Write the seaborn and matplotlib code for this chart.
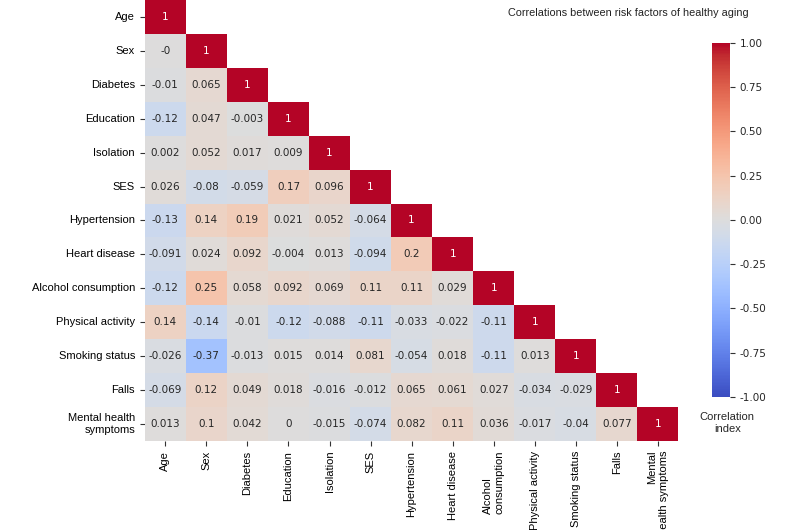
import numpy as np
import pandas as pd
import matplotlib
matplotlib.use("Agg")
import matplotlib.pyplot as plt
import seaborn as sns

# risk factor names (row order = column order)
factors = ['Age', 'Sex', 'Diabetes', 'Education', 'Isolation', 'SES',
           'Hypertension', 'Heart disease', 'Alcohol consumption',
           'Physical activity', 'Smoking status', 'Falls',
           'Mental health symptoms']
row_labels = ['Age', 'Sex', 'Diabetes', 'Education', 'Isolation', 'SES',
              'Hypertension', 'Heart disease', 'Alcohol consumption',
              'Physical activity', 'Smoking status', 'Falls',
              'Mental health\nsymptoms']
col_labels = ['Age', 'Sex', 'Diabetes', 'Education', 'Isolation', 'SES',
              'Hypertension', 'Heart disease', 'Alcohol\nconsumption',
              'Physical activity', 'Smoking status', 'Falls',
              'Mental\nhealth symptoms']

# lower triangle of the correlation matrix, one list per row
r_age = [1]
r_sex = [-0.0, 1]
r_diabetes = [-0.01, 0.065, 1]
r_education = [-0.12, 0.047, -0.003, 1]
r_isolation = [0.002, 0.052, 0.017, 0.009, 1]
r_ses = [0.026, -0.08, -0.059, 0.17, 0.096, 1]
r_hypertension = [-0.13, 0.14, 0.19, 0.021, 0.052, -0.064, 1]
r_heart = [-0.091, 0.024, 0.092, -0.004, 0.013, -0.094, 0.2, 1]
r_alcohol = [-0.12, 0.25, 0.058, 0.092, 0.069, 0.11, 0.11, 0.029, 1]
r_physical = [0.14, -0.14, -0.01, -0.12, -0.088, -0.11, -0.033, -0.022, -0.11, 1]
r_smoking = [-0.026, -0.37, -0.013, 0.015, 0.014, 0.081, -0.054, 0.018, -0.11, 0.013, 1]
r_falls = [-0.069, 0.12, 0.049, 0.018, -0.016, -0.012, 0.065, 0.061, 0.027, -0.034, -0.029, 1]
r_mental = [0.013, 0.1, 0.042, 0.0, -0.015, -0.074, 0.082, 0.11, 0.036, -0.017, -0.04, 0.077, 1]

rows = [r_age, r_sex, r_diabetes, r_education, r_isolation, r_ses,
        r_hypertension, r_heart, r_alcohol, r_physical, r_smoking,
        r_falls, r_mental]

n = len(factors)
mat = np.zeros((n, n))
for i, r in enumerate(rows):
    for j, v in enumerate(r):
        mat[i, j] = v
        mat[j, i] = v
corr = pd.DataFrame(mat, index=factors, columns=factors)
mask = np.triu(np.ones((n, n), dtype=bool), k=1)

sns.set_style("white")
lab_font = ['Liberation Sans', 'DejaVu Sans']

fig = plt.figure(figsize=(8, 5.3), dpi=100)
ax = fig.add_axes([0.181, 0.168, 0.667, 0.832])
cax = fig.add_axes([0.89, 0.251, 0.0225, 0.668])

sns.heatmap(corr, mask=mask, cmap='coolwarm', vmin=-1, vmax=1,
            annot=True, annot_kws={'size': 7.5},
            xticklabels=col_labels, yticklabels=row_labels,
            ax=ax, cbar_ax=cax,
            cbar_kws={'ticks': [-1, -0.75, -0.5, -0.25, 0, 0.25, 0.5, 0.75, 1]})

# ticks are switched off by the white style, the reference has them
ax.tick_params(axis='both', bottom=True, left=True, length=3.5, width=0.8,
               color='#333333', labelcolor='black')
for t in ax.get_xticklabels():
    t.set_rotation(90)
    t.set_fontsize(8)
    t.set_family(lab_font)
for t in ax.get_yticklabels():
    t.set_rotation(0)
    t.set_fontsize(8)
    t.set_family(lab_font)
    t.set_horizontalalignment('right')
xt = ax.get_xticklabels()
xt[8].set_multialignment('left')
xt[12].set_multialignment('right')

cax.yaxis.set_major_formatter(matplotlib.ticker.FormatStrFormatter('%.2f'))
cax.tick_params(right=True, labelsize=7.5, length=3.5, width=0.8,
                color='#333333')

fig.text(0.785, 0.985, 'Correlations between risk factors of healthy aging',
         ha='center', va='top', fontsize=7.8, family=lab_font, color='#222222')
fig.text(0.909, 0.202, 'Correlation\nindex', ha='center', va='center',
         fontsize=8, family=lab_font)

fig.savefig('out.png', dpi=100)
